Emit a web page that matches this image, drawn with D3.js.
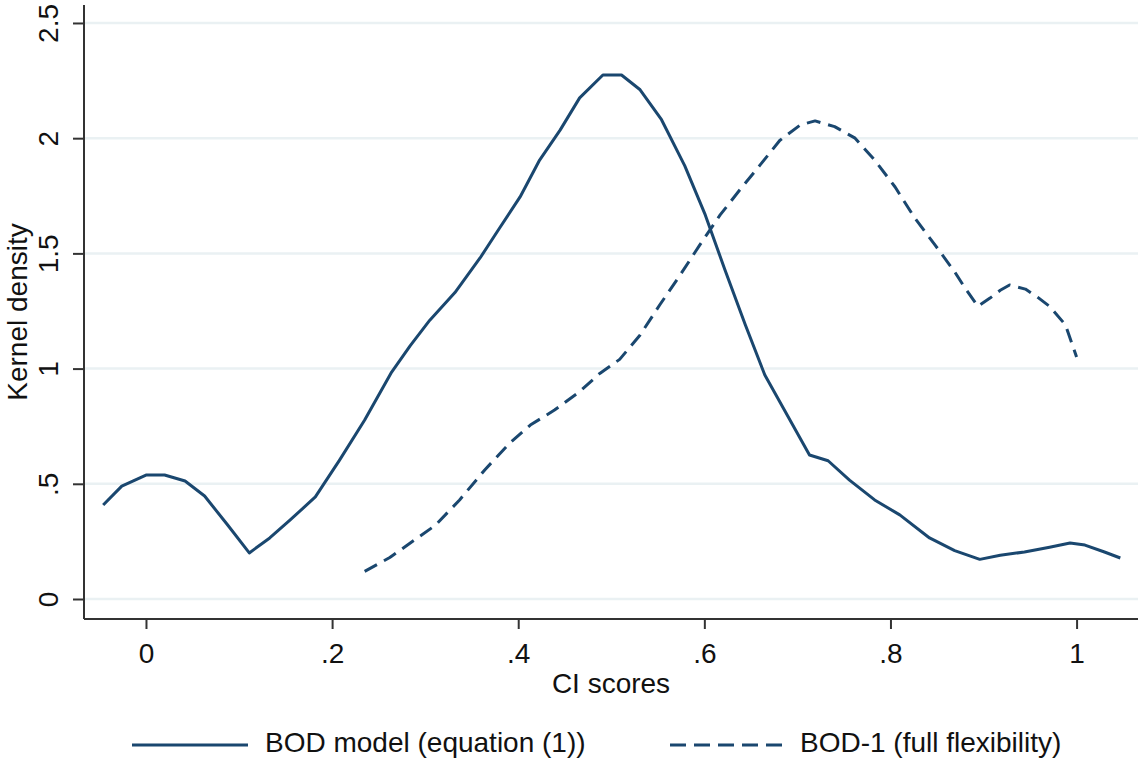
<!DOCTYPE html>
<html>
<head>
<meta charset="utf-8">
<script src="https://cdn.jsdelivr.net/npm/d3@7"></script>
<style>
  body { margin: 0; background: #fff; }
  text { font-family: "Liberation Sans", Arial, sans-serif; fill: #111; }
</style>
</head>
<body>
<div id="chart"></div>
<script>
// CI scores (x) and kernel density (y)
var bodX = [-0.046, -0.026, 0, 0.02, 0.042, 0.063, 0.088, 0.111, 0.133, 0.155, 0.182, 0.208, 0.235, 0.264,
  0.284, 0.305, 0.332, 0.359, 0.38, 0.402, 0.423, 0.445, 0.466, 0.491, 0.511, 0.531, 0.554, 0.579, 0.601,
  0.622, 0.644, 0.665, 0.692, 0.713, 0.733, 0.756, 0.783, 0.81, 0.842, 0.869, 0.896, 0.918, 0.944, 0.971,
  0.993, 1.009, 1.03, 1.047];
var bodY = [0.408, 0.49, 0.538, 0.538, 0.512, 0.447, 0.32, 0.2, 0.265, 0.343, 0.443, 0.603, 0.777, 0.985,
  1.1, 1.21, 1.33, 1.48, 1.61, 1.745, 1.905, 2.035, 2.175, 2.274, 2.274, 2.21, 2.08, 1.88, 1.667,
  1.43, 1.19, 0.972, 0.777, 0.625, 0.6, 0.516, 0.43, 0.365, 0.265, 0.21, 0.172, 0.19, 0.204, 0.225,
  0.243, 0.234, 0.204, 0.178];

var bod1X = [0.235, 0.262, 0.284, 0.311, 0.337, 0.364, 0.391, 0.413, 0.439, 0.466, 0.488, 0.509, 0.531,
  0.552, 0.574, 0.595, 0.617, 0.638, 0.66, 0.681, 0.703, 0.719, 0.74, 0.762, 0.783, 0.805, 0.826, 0.848,
  0.869, 0.88, 0.894, 0.907, 0.918, 0.928, 0.945, 0.958, 0.971, 0.988, 1.0];
var bod1Y = [0.12, 0.18, 0.243, 0.32, 0.43, 0.56, 0.677, 0.755, 0.82, 0.9, 0.98, 1.04, 1.146,
  1.276, 1.406, 1.536, 1.667, 1.775, 1.884, 1.99, 2.057, 2.075, 2.05, 2.0, 1.905, 1.788, 1.654, 1.536,
  1.42, 1.35, 1.27, 1.306, 1.34, 1.363, 1.345, 1.31, 1.27, 1.19, 1.05];

var xTicks = [0, 0.2, 0.4, 0.6, 0.8, 1];
var xTickLabels = ["0", ".2", ".4", ".6", ".8", "1"];
var yTicks = [0, 0.5, 1, 1.5, 2, 2.5];
var yTickLabels = ["0", ".5", "1", "1.5", "2", "2.5"];

var seriesNames = ["BOD model (equation (1))", "BOD-1 (full flexibility)"];

var svgWidth = 1143, svgHeight = 771;
var plot = { left: 84, right: 1138, top: 5, bottom: 619 };
var navy = "#1a476f";

var svg = d3.select("#chart").append("svg")
  .attr("width", svgWidth)
  .attr("height", svgHeight);

var x = d3.scaleLinear().domain([-0.0666, 1.066]).range([plot.left, plot.right]);
var y = d3.scaleLinear().domain([-0.0868, 2.578]).range([plot.bottom, plot.top]);

// gridlines
svg.append("g").selectAll("line")
  .data(yTicks)
  .enter().append("line")
  .attr("x1", plot.left + 1).attr("x2", plot.right)
  .attr("y1", d => y(d)).attr("y2", d => y(d))
  .attr("stroke", "#eaf1f3")
  .attr("stroke-width", 2.5);

// y axis
var yAxis = svg.append("g")
  .attr("transform", `translate(${plot.left},0)`)
  .call(d3.axisLeft(y).tickValues(yTicks).tickSize(11).tickFormat((d, i) => yTickLabels[i]));
yAxis.select(".domain").attr("d", `M0,${plot.top}V${plot.bottom}`);
// tick groups are already shifted to y(d); just rotate the label in place
yAxis.selectAll(".tick text")
  .attr("x", 0).attr("y", 0).attr("dy", null)
  .attr("text-anchor", "middle")
  .attr("transform", "translate(-26,0) rotate(-90)");

// x axis
var xAxis = svg.append("g")
  .attr("transform", `translate(0,${plot.bottom})`)
  .call(d3.axisBottom(x).tickValues(xTicks).tickSize(10).tickFormat((d, i) => xTickLabels[i]));
xAxis.select(".domain").attr("d", `M${plot.left},0H${plot.right}`);
xAxis.selectAll(".tick text").attr("y", 44).attr("dy", null);

[yAxis, xAxis].forEach(function(ax) {
  ax.attr("font-size", null).attr("font-family", null);
  ax.select(".domain").attr("stroke", "#333").attr("stroke-width", 2);
  ax.selectAll(".tick line").attr("stroke", "#333").attr("stroke-width", 2);
  ax.selectAll(".tick text").attr("fill", "#111").style("font-size", "28px");
});

// axis titles
svg.append("text")
  .attr("x", (plot.left + plot.right) / 2)
  .attr("y", 693)
  .attr("text-anchor", "middle")
  .style("font-size", "28px")
  .text("CI scores");

svg.append("text")
  .attr("transform", `translate(27,${(plot.top + plot.bottom) / 2}) rotate(-90)`)
  .attr("text-anchor", "middle")
  .style("font-size", "28px")
  .text("Kernel density");

// curves
var line = d3.line().x(d => x(d[0])).y(d => y(d[1])).curve(d3.curveLinear);

svg.append("path")
  .datum(d3.zip(bodX, bodY))
  .attr("d", line)
  .attr("fill", "none")
  .attr("stroke", navy)
  .attr("stroke-width", 3)
  .attr("stroke-linejoin", "round");

svg.append("path")
  .datum(d3.zip(bod1X, bod1Y))
  .attr("d", line)
  .attr("fill", "none")
  .attr("stroke", navy)
  .attr("stroke-width", 3)
  .attr("stroke-linejoin", "round")
  .attr("stroke-dasharray", "14,8");

// legend
var legend = svg.append("g");
var legendItems = [
  { name: seriesNames[0], x1: 132, x2: 248, tx: 265, dash: null },
  { name: seriesNames[1], x1: 670, x2: 786, tx: 800, dash: "16,8" }
];
legendItems.forEach(function(item) {
  legend.append("line")
    .attr("x1", item.x1).attr("x2", item.x2)
    .attr("y1", 745).attr("y2", 745)
    .attr("stroke", navy)
    .attr("stroke-width", 3)
    .attr("stroke-dasharray", item.dash);
  legend.append("text")
    .attr("x", item.tx)
    .attr("y", 752)
    .style("font-size", "28px")
    .text(item.name);
});
</script>
</body>
</html>
